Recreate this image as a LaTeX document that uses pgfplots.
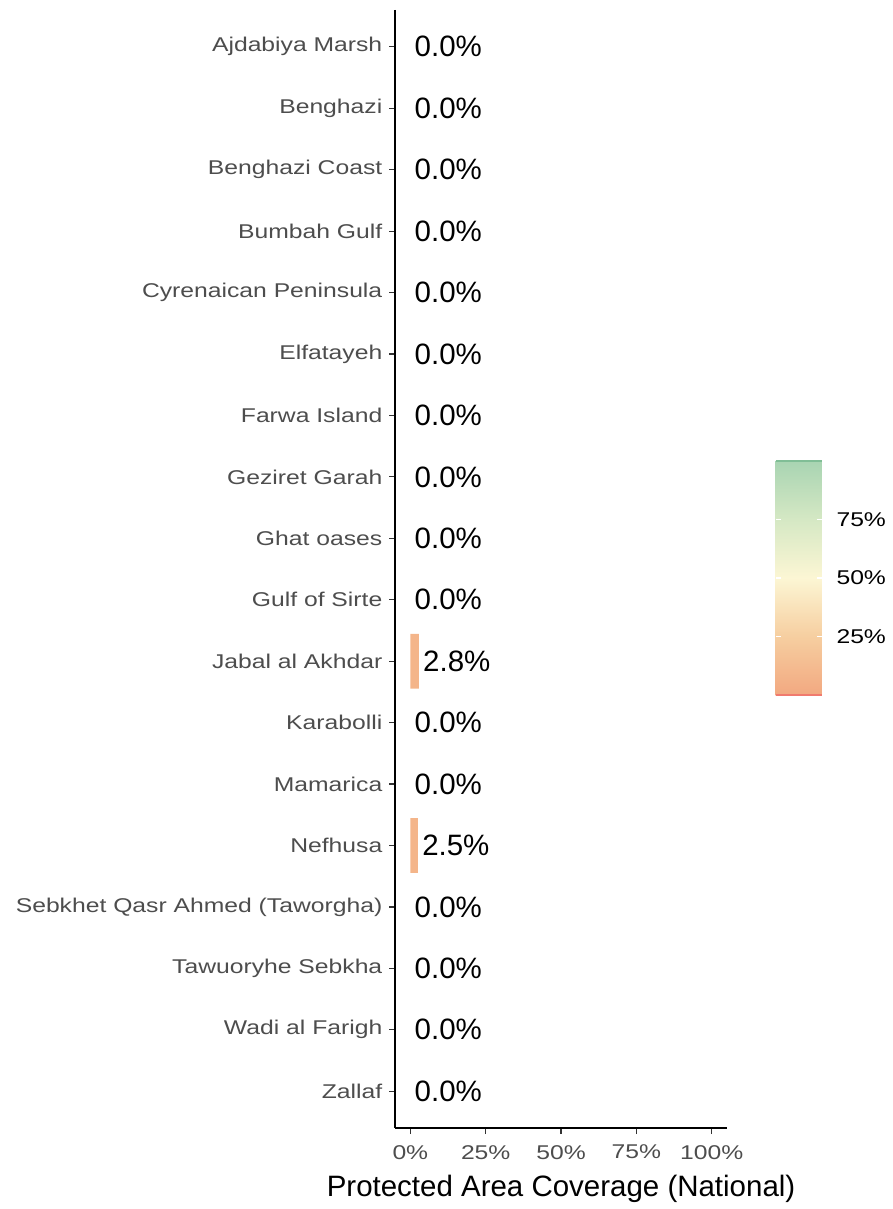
\documentclass[border=0pt]{standalone}
\usepackage{fontspec}
\setmainfont{Liberation Sans}
\newfontfamily\widefont{Liberation Sans}[FakeStretch=1.24]
\usepackage{pgfplots}
\pgfplotsset{compat=1.18}

\definecolor{barfill}{RGB}{244,181,138}
\definecolor{axgray}{RGB}{77,77,77}
\definecolor{cbtop}{RGB}{128,190,150}
\definecolor{cbbot}{RGB}{240,122,110}

\pgfplotsset{
  covbar/.style={
    xbar, bar width=27.5pt, bar shift=0pt,
    point meta=x,
    nodes near coords={\pgfmathprintnumber[fixed,fixed zerofill,precision=1,assume math mode=true]{\pgfplotspointmeta}\%},
    nodes near coords style={font=\fontsize{14.8}{16}\selectfont, text=black, inner sep=0pt, xshift=2pt},
  },
}

\begin{document}
\begin{tikzpicture}
% page frame in the reference's proportions
\path (-198.5pt,-38pt) rectangle (246.5pt,566.5pt);
\begin{axis}[
    at={(0,0)}, anchor=south west,
    scale only axis, width=166.5pt, height=561.5pt,
    xmin=-5, xmax=105, ymin=-0.6, ymax=17.6,
    y dir=reverse,
    axis x line*=bottom, axis y line*=left,
    axis line style={-, black, line width=0.9pt},
    tick align=outside, major tick length=3pt,
    tick style={black!80, line width=0.6pt},
    ytick={0,...,17},
    yticklabels={Ajdabiya Marsh, Benghazi, Benghazi Coast, Bumbah Gulf,
      Cyrenaican Peninsula, Elfatayeh, Farwa Island, Geziret Garah,
      Ghat oases, Gulf of Sirte, Jabal al Akhdar, Karabolli, Mamarica,
      Nefhusa, Sebkhet Qasr Ahmed (Taworgha), Tawuoryhe Sebkha,
      Wadi al Farigh, Zallaf},
    xtick={0,25,50,75,100},
    xticklabels={0\%,25\%,50\%,75\%,100\%},
    yticklabel style={font=\widefont\fontsize{10}{12}\selectfont, text=axgray},
    xticklabel style={font=\widefont\fontsize{10}{12}\selectfont, text=axgray, yshift=-2pt},
    xlabel={Protected Area Coverage (National)},
    xlabel style={font=\fontsize{14.8}{16}\selectfont, text=black, yshift=-1pt},
    point meta min=0, point meta max=100,
    colormap={cov}{rgb255(0)=(242,168,128); rgb255(1)=(246,206,160);
      rgb255(2)=(252,246,212); rgb255(3)=(213,232,196); rgb255(4)=(168,212,178)},
    colorbar right,
    colorbar/width=23pt,
    colorbar style={
      at={(parent axis.east)}, anchor=west,
      xshift=16pt, yshift=-4.5pt,
      scale only axis, width=23pt, height=118pt,
      ytick={25,50,75}, yticklabels={25\%,50\%,75\%},
      yticklabel pos=right, ytick pos=both,
      tick align=inside, major tick length=2.5pt,
      ytick style={draw=white, line width=0.6pt},
      axis line style={draw=none},
      yticklabel style={font=\widefont\fontsize{10}{12}\selectfont, text=black, xshift=4pt},
      after end axis/.code={
        \draw[cbtop, line width=1pt] (rel axis cs:0,1) -- (rel axis cs:1,1);
        \draw[cbbot, line width=1pt] (rel axis cs:0,0) -- (rel axis cs:1,0);
      },
    },
]
% non-zero coverage
\addplot[covbar, fill=barfill, draw=none] coordinates {
  (2.8,10) (2.5,13)
};
% zero coverage: labels only
\addplot[covbar, fill=none, draw=none] coordinates {
  (0,0) (0,1) (0,2) (0,3) (0,4) (0,5) (0,6) (0,7) (0,8) (0,9)
  (0,11) (0,12) (0,14) (0,15) (0,16) (0,17)
};
\end{axis}
\end{tikzpicture}
\end{document}
